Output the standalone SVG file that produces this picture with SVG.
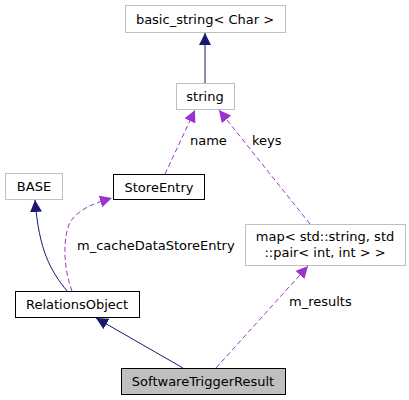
<svg xmlns="http://www.w3.org/2000/svg" width="409" height="400" viewBox="0 0 409 400">
<style>
text{font-family:"DejaVu Sans",sans-serif;font-size:13px;fill:#000}
.n text{text-anchor:middle}
.g rect{fill:#fff;stroke:#bfbfbf;stroke-width:1}
.b rect{fill:#fff;stroke:#000;stroke-width:1}
.inh{fill:none;stroke:#191970;stroke-width:1}
.use{fill:none;stroke:#9a32cd;stroke-width:1;stroke-dasharray:5,3}
</style>
<defs>
<marker id="ah" viewBox="0 0 10 10" refX="10" refY="5" markerWidth="12" markerHeight="12" markerUnits="userSpaceOnUse" orient="auto"><path d="M0,0L10,5L0,10z" fill="#191970"/></marker>
<marker id="ap" viewBox="0 0 10 10" refX="10" refY="5" markerWidth="12" markerHeight="12" markerUnits="userSpaceOnUse" orient="auto"><path d="M0,0L10,5L0,10z" fill="#9a32cd"/></marker>
</defs>
<g id="connectors">
<path class="inh" d="M205,83V33" marker-end="url(#ah)"/>
<path class="inh" d="M67,291C50,270 39,250 35,200" marker-end="url(#ah)"/>
<path class="use" d="M72,291C64,270 62,240 70,222C80,208 95,203 112,198" marker-end="url(#ap)"/>
<path class="use" d="M165,174L195,110" marker-end="url(#ap)"/>
<path class="use" d="M310,224L219,110" marker-end="url(#ap)"/>
<path class="inh" d="M183,368L96,318" marker-end="url(#ah)"/>
<path class="use" d="M216,368L308,266" marker-end="url(#ap)"/>
<text x="190" y="145">name</text>
<text x="252" y="145">keys</text>
<text x="77" y="250">m_cacheDataStoreEntry</text>
<text x="289" y="306">m_results</text>
</g>
<g id="basic_string" class="n g"><rect x="125.5" y="5.5" width="160" height="27"/><text x="205" y="23.5">basic_string&lt; Char &gt;</text></g>
<g id="string" class="n g"><rect x="176.5" y="83.5" width="58" height="26"/><text x="205" y="101">string</text></g>
<g id="BASE" class="n g"><rect x="5.5" y="173.5" width="57" height="26"/><text x="34" y="191">BASE</text></g>
<g id="StoreEntry" class="n b"><rect x="113.5" y="174.5" width="91" height="25"/><text x="159" y="191.5">StoreEntry</text></g>
<g id="map" class="n g"><rect x="245.5" y="224.5" width="160" height="41"/><text x="325" y="241">map&lt; std::string, std</text><text x="325" y="257">::pair&lt; int, int &gt; &gt;</text></g>
<g id="RelationsObject" class="n b"><rect x="15.5" y="291.5" width="124" height="26"/><text x="77" y="309">RelationsObject</text></g>
<g id="SoftwareTriggerResult" class="n"><rect x="121.5" y="368.5" width="164" height="26" fill="#bfbfbf" stroke="#000"/><text x="203" y="386">SoftwareTriggerResult</text></g>
</svg>
